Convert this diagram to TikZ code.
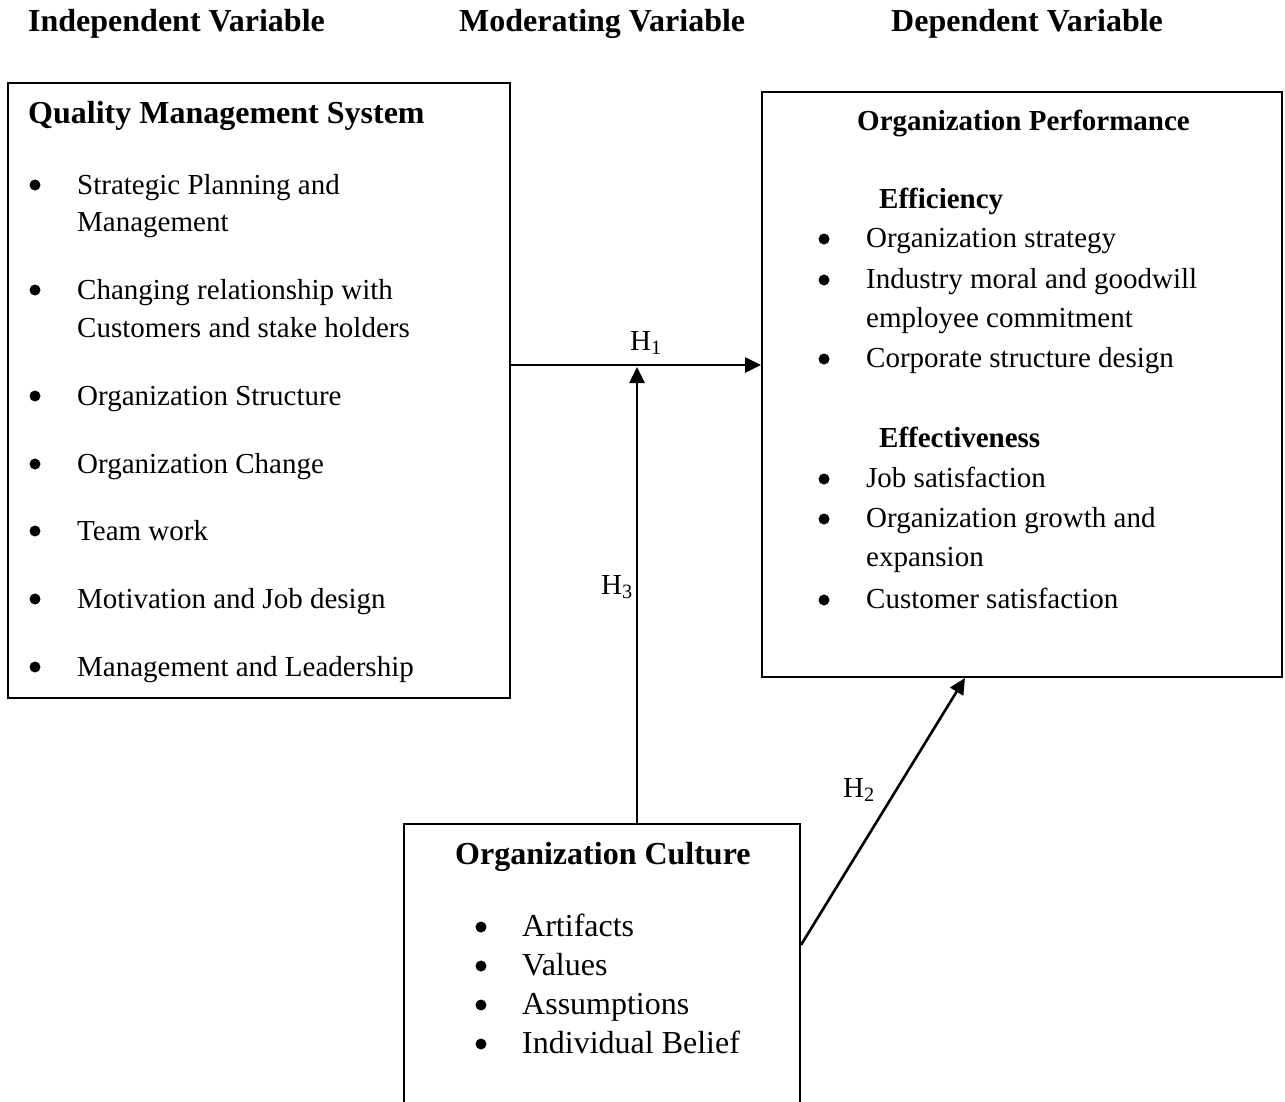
\documentclass[tikz,border=0pt]{standalone}
\usepackage{fontspec}
\setmainfont{Liberation Serif}
\usetikzlibrary{arrows.meta}
\begin{document}
\begin{tikzpicture}[x=1pt,y=-1pt,
  box/.style={draw, line width=2pt, rectangle, inner sep=0pt},
  txt/.style={anchor=base west, inner sep=0pt, font=\fontsize{29}{35}\selectfont},
  txtb/.style={anchor=base west, inner sep=0pt, font=\fontsize{29}{35}\selectfont\bfseries},
  big/.style={anchor=base west, inner sep=0pt, font=\fontsize{32}{38}\selectfont},
  bigb/.style={anchor=base west, inner sep=0pt, font=\fontsize{32}{38}\selectfont\bfseries},
  bul/.style={circle, fill, inner sep=0pt, minimum size=11pt},
  conn/.style={line width=2.6pt, -{Triangle[length=16pt,width=15pt]}}
]
\useasboundingbox (0,0) rectangle (1285,1101);

% headers
\node[bigb] (hind) at (28,31) {Independent Variable};
\node[bigb] (hmod) at (459,31) {Moderating Variable};
\node[bigb] (hdep) at (891,31) {Dependent Variable};

% boxes
\node[box, minimum width=502pt, minimum height=615pt] (qms) at (259,390.5) {};
\node[box, minimum width=520pt, minimum height=585pt] (perf) at (1022,384.5) {};
\node[box, minimum width=396pt, minimum height=300pt] (cult) at (602,974) {};

% left box
\node[bigb] (qmst) at (28,123) {Quality Management System};
\node[bul] (lb1) at (35,185) {};
\node[txt] (l1a) at (77,194) {Strategic Planning and};
\node[txt] (l1b) at (77,231) {Management};
\node[bul] (lb2) at (35,290) {};
\node[txt] (l2a) at (77,299) {Changing relationship with};
\node[txt] (l2b) at (77,337) {Customers and stake holders};
\node[bul] (lb3) at (35,396) {};
\node[txt] (l3) at (77,405) {Organization Structure};
\node[bul] (lb4) at (35,464) {};
\node[txt] (l4) at (77,473) {Organization Change};
\node[bul] (lb5) at (35,531) {};
\node[txt] (l5) at (77,540) {Team work};
\node[bul] (lb6) at (35,599) {};
\node[txt] (l6) at (77,608) {Motivation and Job design};
\node[bul] (lb7) at (35,667) {};
\node[txt] (l7) at (77,676) {Management and Leadership};

% right box
\node[txtb] (perft) at (857,130) {Organization Performance};
\node[txtb] (eff) at (879,208) {Efficiency};
\node[bul] (rb1) at (824,239) {};
\node[txt] (r1) at (866,247) {Organization strategy};
\node[bul] (rb2) at (824,280) {};
\node[txt] (r2a) at (866,288) {Industry moral and goodwill};
\node[txt] (r2b) at (866,327) {employee commitment};
\node[bul] (rb3) at (824,359) {};
\node[txt] (r3) at (866,367) {Corporate structure design};
\node[txtb] (effv) at (879,447) {Effectiveness};
\node[bul] (rb4) at (824,479) {};
\node[txt] (r4) at (866,487) {Job satisfaction};
\node[bul] (rb5) at (824,519) {};
\node[txt] (r5a) at (866,527) {Organization growth and};
\node[txt] (r5b) at (866,566) {expansion};
\node[bul] (rb6) at (824,600) {};
\node[txt] (r6) at (866,608) {Customer satisfaction};

% bottom box
\node[bigb] (cultt) at (455,864) {Organization Culture};
\node[bul] (bb1) at (481,927) {};
\node[big] (b1) at (522,936) {Artifacts};
\node[bul] (bb2) at (481,966) {};
\node[big] (b2) at (522,975) {Values};
\node[bul] (bb3) at (481,1005) {};
\node[big] (b3) at (522,1014) {Assumptions};
\node[bul] (bb4) at (481,1044) {};
\node[big] (b4) at (522,1053) {Individual Belief};

% connectors
\coordinate (h1y) at (0,365);
\coordinate (h3top) at (637,367);
\coordinate (h2s) at (0,945);
\coordinate (h2e) at (965,0);
\draw[conn] (qms.east |- h1y) -- (perf.west |- h1y);
\draw[conn] (cult.north -| h3top) -- (h3top);
\draw[conn] (cult.east |- h2s) -- (perf.south -| h2e);

% labels
\node[txt] (lh1) at (630,350) {H\textsubscript{1}};
\node[txt] (lh3) at (601,594) {H\textsubscript{3}};
\node[txt] (lh2) at (843,797) {H\textsubscript{2}};
\end{tikzpicture}
\end{document}
